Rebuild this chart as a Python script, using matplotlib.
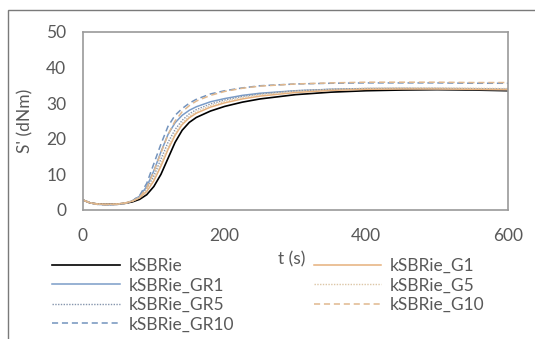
import matplotlib
matplotlib.use("Agg")
import matplotlib.pyplot as plt
from matplotlib.patches import Rectangle

plt.rcParams['font.family'] = ['Lato', 'DejaVu Sans']

# time axis (s)
t = [0, 10, 20, 30, 40, 50, 60, 70, 80, 90, 100, 110, 120, 130, 140, 150,
     160, 180, 200, 225, 250, 300, 350, 400, 450, 500, 550, 600]

# S' (dNm)
kSBRie = [2.8, 2.0, 1.7, 1.6, 1.6, 1.7, 1.9, 2.3, 3.0, 4.3, 6.6, 10.0, 14.5, 19.0, 22.4, 24.6,
          26.0, 27.8, 29.1, 30.3, 31.2, 32.4, 33.1, 33.5, 33.7, 33.8, 33.7, 33.5]
kSBRie_G1 = [2.8, 2.0, 1.7, 1.6, 1.6, 1.7, 2.0, 2.5, 3.4, 5.2, 8.2, 12.3, 17.0, 21.0, 24.0, 25.9,
             27.2, 28.9, 30.1, 31.2, 32.0, 33.0, 33.6, 33.9, 34.0, 34.0, 33.9, 33.8]
kSBRie_GR1 = [2.8, 2.0, 1.6, 1.5, 1.5, 1.6, 1.9, 2.6, 3.9, 6.6, 11.0, 16.3, 21.2, 24.5, 26.6, 28.0,
              29.0, 30.4, 31.3, 32.2, 32.8, 33.5, 33.9, 34.1, 34.1, 34.0, 33.9, 33.8]
kSBRie_G5 = [2.8, 2.0, 1.7, 1.6, 1.6, 1.7, 2.0, 2.6, 3.6, 5.6, 8.8, 13.0, 17.6, 21.5, 24.4, 26.3,
             27.6, 29.3, 30.5, 31.6, 32.4, 33.4, 33.9, 34.2, 34.3, 34.3, 34.2, 34.1]
kSBRie_GR5 = [2.8, 2.0, 1.6, 1.5, 1.5, 1.6, 1.9, 2.6, 3.7, 6.0, 9.6, 14.3, 19.0, 22.6, 25.2, 27.0,
              28.2, 29.8, 30.9, 31.9, 32.6, 33.5, 33.9, 34.1, 34.2, 34.2, 34.1, 34.0]
kSBRie_G10 = [2.8, 2.0, 1.6, 1.5, 1.5, 1.6, 1.9, 2.5, 3.6, 6.2, 10.8, 16.0, 21.2, 25.0, 27.6, 29.3,
              30.6, 32.2, 33.3, 34.2, 34.8, 35.4, 35.7, 35.9, 35.9, 35.9, 35.8, 35.8]
kSBRie_GR10 = [2.8, 2.0, 1.6, 1.5, 1.5, 1.6, 1.9, 2.6, 4.1, 7.5, 13.0, 18.5, 23.5, 26.6, 28.5, 30.0,
               31.1, 32.6, 33.5, 34.3, 34.9, 35.4, 35.6, 35.7, 35.7, 35.7, 35.6, 35.6]

grey = '#595959'
fs = 12.5

fig = plt.figure(figsize=(5.35, 3.39), dpi=100)
ax = fig.add_axes([83/535, 1 - 210/339, (508 - 83)/535, (210 - 32)/339])

# outer chart border (cut off at right and bottom like the source)
fig.patches.append(Rectangle((7.5/535, -0.5), 2, 0.5 + 1 - 10/339, transform=fig.transFigure,
                             fill=False, edgecolor='#7a7a7a', linewidth=1.0))

l_k, = ax.plot(t, kSBRie, color='black', lw=1.2)
l_gr1, = ax.plot(t, kSBRie_GR1, color='#7a9cc8', lw=1.1)
l_gr5, = ax.plot(t, kSBRie_GR5, color='#8595ad', lw=1.0, linestyle=(0, (1, 1)))
l_gr10, = ax.plot(t, kSBRie_GR10, color='#7393bd', lw=1.1, linestyle=(0, (4, 2.5)))
l_g1, = ax.plot(t, kSBRie_G1, color='#e6b07c', lw=1.1)
l_g5, = ax.plot(t, kSBRie_G5, color='#dcc6a6', lw=1.0, linestyle=(0, (1, 1)))
l_g10, = ax.plot(t, kSBRie_G10, color='#e0b88e', lw=1.1, linestyle=(0, (4, 2.5)))

ax.set_xlim(0, 600)
ax.set_ylim(0, 50)
ax.set_xticks([0, 200, 400, 600])
ax.set_yticks([0, 10, 20, 30, 40, 50])
ax.tick_params(length=0, labelsize=fs, labelcolor=grey)
ax.tick_params(axis='x', pad=13)
ax.tick_params(axis='y', pad=12)
for s in ax.spines.values():
    s.set_color('#9a9a9a')
    s.set_linewidth(1.2)

ax.set_ylabel("S' (dNm)", fontsize=fs, color=grey, labelpad=9)
fig.text(292/535, 1 - 259/339, 't (s)', fontsize=fs, color=grey, ha='center', va='center')

handles = [l_k, l_gr1, l_gr5, l_gr10, l_g1, l_g5, l_g10]
labels = ['kSBRie', 'kSBRie_GR1', 'kSBRie_GR5', 'kSBRie_GR10',
          'kSBRie_G1', 'kSBRie_G5', 'kSBRie_G10']
fig.legend(handles, labels, ncol=2, loc='upper left', bbox_to_anchor=(52/535, 1 - 258/339),
           frameon=False, fontsize=fs, labelcolor=grey, handlelength=3.9, handletextpad=0.5,
           columnspacing=4.6, labelspacing=0.2, borderpad=0, borderaxespad=0)

fig.savefig('out.png', dpi=100)
